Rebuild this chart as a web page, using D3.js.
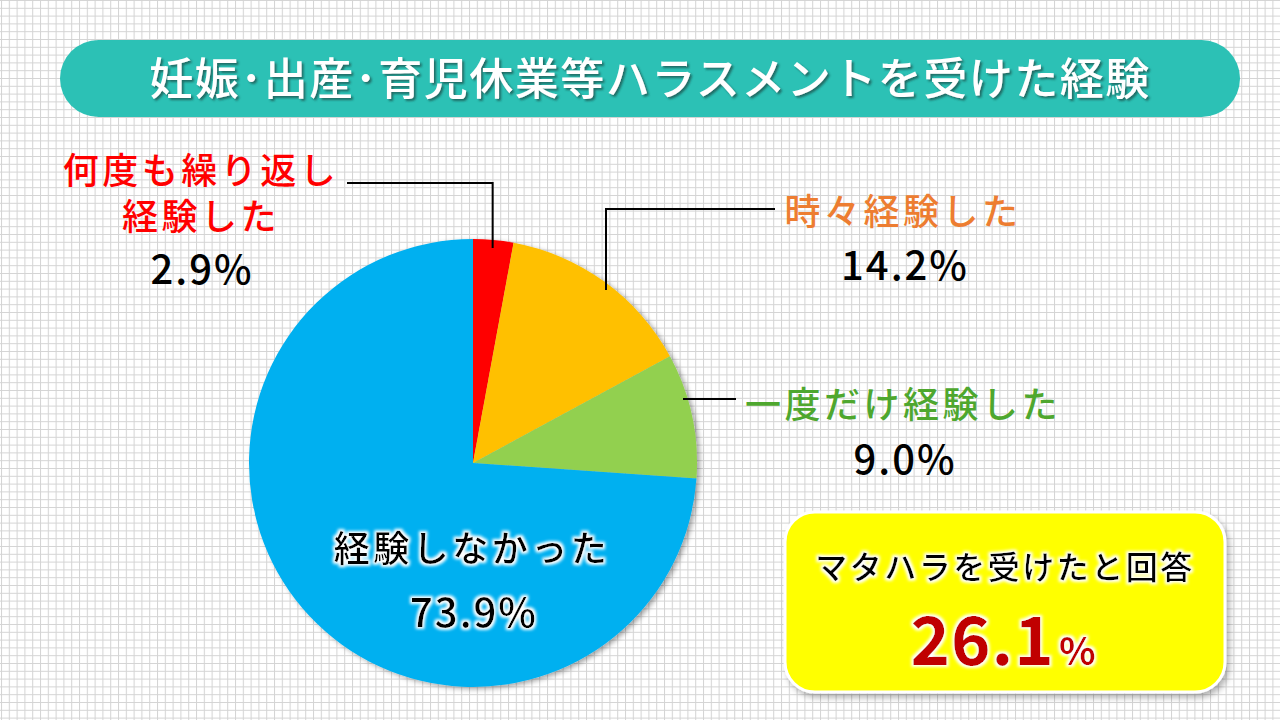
<!DOCTYPE html>
<html><head><meta charset="utf-8">
<script src="https://cdn.jsdelivr.net/npm/d3@7"></script>
<style>
html,body{margin:0;padding:0;background:#fff;}
svg{display:block;}
text{font-family:"Noto Sans CJK JP","Noto Sans",sans-serif;}
</style></head>
<body>
<svg id="chart" width="1280" height="720"></svg>
<script>
const title = "妊娠･出産･育児休業等ハラスメントを受けた経験";
const categories = ["何度も繰り返し経験した", "時々経験した", "一度だけ経験した", "経験しなかった"];
const values = [2.9, 14.2, 9.0, 73.9];
const colors = ["#ff0000", "#ffc000", "#92d050", "#00b0f0"];
const labelColors = ["#ff0000", "#ed7d31", "#4ea72e", "#000000"];
const summaryLabel = "マタハラを受けたと回答";
const summaryValue = 26.1;

const W = 1280, H = 720;
const svg = d3.select("#chart");
const defs = svg.append("defs");

// grid pattern
const pat = defs.append("pattern").attr("id","grid").attr("width",7.8).attr("height",7.8)
  .attr("patternUnits","userSpaceOnUse").attr("x",1).attr("y",0);
pat.append("rect").attr("width",7.8).attr("height",7.8).attr("fill","#fff");
pat.append("path").attr("d","M0,0.5H7.8M0.5,0V7.8").attr("stroke","#d4d4d4").attr("stroke-width",1).attr("fill","none");
svg.append("rect").attr("width",W).attr("height",H).attr("fill","url(#grid)");

// filters
const sh = defs.append("filter").attr("id","pieShadow").attr("x","-10%").attr("y","-10%").attr("width","130%").attr("height","130%");
sh.append("feDropShadow").attr("dx",3).attr("dy",2).attr("stdDeviation",2.5).attr("flood-color","#000").attr("flood-opacity",0.35);
const bs = defs.append("filter").attr("id","boxShadow").attr("x","-10%").attr("y","-10%").attr("width","130%").attr("height","130%");
bs.append("feDropShadow").attr("dx",3).attr("dy",4).attr("stdDeviation",3).attr("flood-color","#000").attr("flood-opacity",0.3);
const ts = defs.append("filter").attr("id","titleShadow").attr("x","-5%").attr("y","-20%").attr("width","110%").attr("height","150%");
ts.append("feDropShadow").attr("dx",2).attr("dy",2).attr("stdDeviation",1).attr("flood-color","#1a4f4a").attr("flood-opacity",0.75);
const glow = defs.append("filter").attr("id","glow").attr("x","-10%").attr("y","-30%").attr("width","120%").attr("height","160%");
glow.append("feMorphology").attr("in","SourceAlpha").attr("operator","dilate").attr("radius",2).attr("result","d");
glow.append("feGaussianBlur").attr("in","d").attr("stdDeviation",1.5).attr("result","b");
glow.append("feFlood").attr("flood-color","#fff").attr("result","f");
glow.append("feComposite").attr("in","f").attr("in2","b").attr("operator","in").attr("result","g");
const gm = glow.append("feMerge");
gm.append("feMergeNode").attr("in","g");
gm.append("feMergeNode").attr("in","SourceGraphic");

// title bar
svg.append("rect").attr("x",60).attr("y",40).attr("width",1180).attr("height",77).attr("rx",38.5)
  .attr("fill","#2cc1b5");
svg.append("text").attr("x",650).attr("y",95).attr("text-anchor","middle")
  .attr("font-size",44).attr("font-weight",500).attr("letter-spacing",1.5)
  .attr("fill","#fff").attr("filter","url(#titleShadow)").text(title);

// pie
const cx = 473, cy = 463, R = 224;
const pie = d3.pie().sort(null).value(d=>d)(values);
const arc = d3.arc().innerRadius(0).outerRadius(R);
const g = svg.append("g").attr("transform",`translate(${cx},${cy})`).attr("filter","url(#pieShadow)");
g.selectAll("path").data(pie).join("path").attr("d",arc).attr("fill",(d,i)=>colors[i]);

// leader lines
function pt(a, r){ return [cx + r*Math.sin(a), cy - r*Math.cos(a)]; }
const lines = svg.append("g").attr("stroke","#000").attr("stroke-width",2).attr("fill","none");
{
  const a = (pie[0].startAngle+pie[0].endAngle)/2;
  const p = pt(a, R-8);
  lines.append("path").attr("d",`M347,183H${p[0]}V${p[1]}`);
}
lines.append("path").attr("d",`M775,209H606V290`);
lines.append("path").attr("d",`M736,399H683`);

function label(x, y, txt, color, size, spacing, extra){
  const t = svg.append("text").attr("x",x).attr("y",y).attr("text-anchor","middle")
    .attr("font-size",size).attr("letter-spacing",spacing).attr("fill",color).attr("font-weight",500);
  if(extra) extra(t);
  t.text(txt);
  return t;
}
const fmt = v => d3.format(".1f")(v) + "%";
// two-line red label as one text element
const red = svg.append("text").attr("text-anchor","middle").attr("font-size",36)
  .attr("letter-spacing",3.5).attr("fill",labelColors[0]).attr("font-weight",500);
red.append("tspan").attr("x",201).attr("y",184).text("何度も繰り返し");
red.append("tspan").attr("x",201).attr("y",230).text("経験した");
label(202, 284, fmt(values[0]), "#000", 40, 2);
label(903, 225, "時々経験した", labelColors[1], 36, 3.5);
label(905, 280, fmt(values[1]), "#000", 40, 2);
label(903, 418, "一度だけ経験した", labelColors[2], 36, 3.5);
label(905, 474, fmt(values[2]), "#000", 40, 2);
label(472, 562, "経験しなかった", "#000", 36, 3.5, t=>t.attr("filter","url(#glow)"));
label(474, 627, fmt(values[3]), "#000", 40, 2, t=>t.attr("filter","url(#glow)"));

// summary box
svg.append("rect").attr("x",785).attr("y",512).attr("width",440).attr("height",180).attr("rx",30)
  .attr("fill","#ffff00").attr("stroke","#fff").attr("stroke-width",3).attr("filter","url(#boxShadow)");
label(1005, 579, summaryLabel, "#000", 32, 2.5, t=>t.attr("filter","url(#glow)"));
const st = svg.append("text").attr("x",1003).attr("y",665).attr("text-anchor","middle")
  .attr("fill","#c00000").attr("font-weight",700).attr("filter","url(#glow)");
st.append("tspan").attr("font-size",67).attr("letter-spacing",1).text(d3.format(".1f")(summaryValue));
st.append("tspan").attr("font-size",38).attr("dx",4).text("%");
</script>
</body></html>
